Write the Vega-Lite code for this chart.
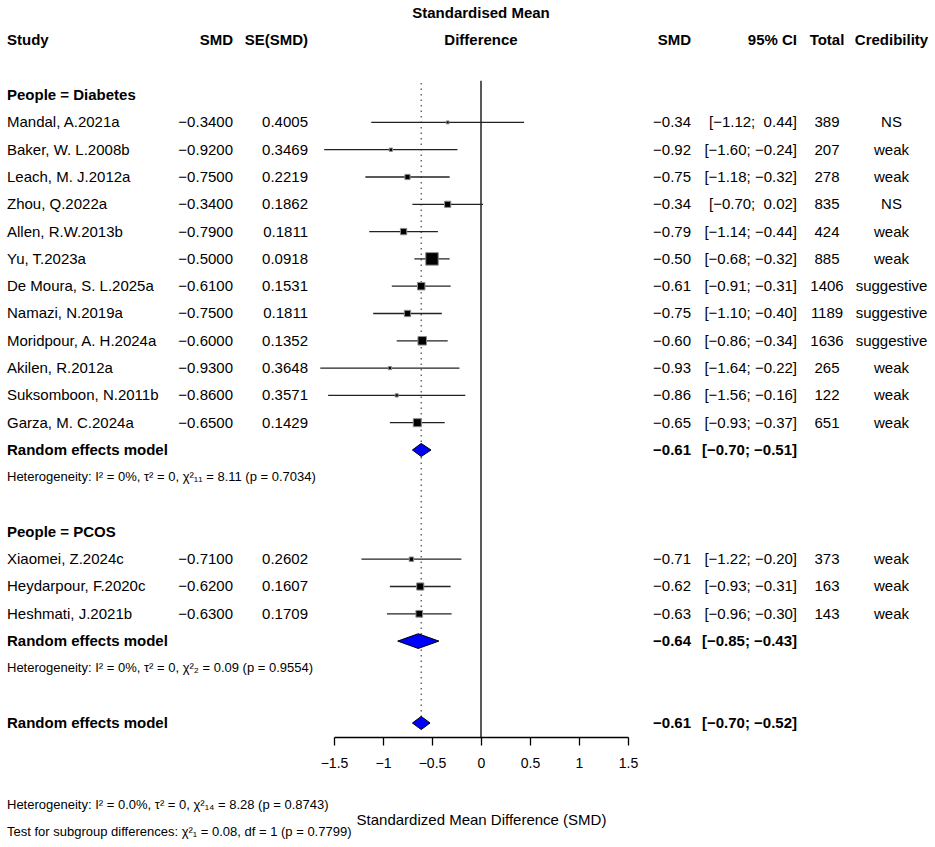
{
  "$schema": "https://vega.github.io/schema/vega-lite/v6.json",
  "padding": {"left": 7, "top": 0, "right": 9, "bottom": 0},
  "autosize": {"type": "pad"},
  "spacing": 0,
  "bounds": "flush",
  "background": "white",
  "resolve": {"scale": {"x": "independent", "y": "independent", "size": "independent"}},
  "datasets": {
    "studies": [
      {"row": 3, "study": "Mandal, A.2021a", "smd": -0.34, "se": 0.4005, "lo": -1.12, "hi": 0.44, "w": 1.27, "ci": "[−1.12; \u00a00.44]", "total": "389", "cred": "NS"},
      {"row": 4, "study": "Baker, W. L.2008b", "smd": -0.92, "se": 0.3469, "lo": -1.60, "hi": -0.24, "w": 1.69, "ci": "[−1.60; −0.24]", "total": "207", "cred": "weak"},
      {"row": 5, "study": "Leach, M. J.2012a", "smd": -0.75, "se": 0.2219, "lo": -1.18, "hi": -0.32, "w": 4.12, "ci": "[−1.18; −0.32]", "total": "278", "cred": "weak"},
      {"row": 6, "study": "Zhou, Q.2022a", "smd": -0.34, "se": 0.1862, "lo": -0.70, "hi": 0.02, "w": 5.85, "ci": "[−0.70; \u00a00.02]", "total": "835", "cred": "NS"},
      {"row": 7, "study": "Allen, R.W.2013b", "smd": -0.79, "se": 0.1811, "lo": -1.14, "hi": -0.44, "w": 6.19, "ci": "[−1.14; −0.44]", "total": "424", "cred": "weak"},
      {"row": 8, "study": "Yu, T.2023a", "smd": -0.50, "se": 0.0918, "lo": -0.68, "hi": -0.32, "w": 24.08, "ci": "[−0.68; −0.32]", "total": "885", "cred": "weak"},
      {"row": 9, "study": "De Moura, S. L.2025a", "smd": -0.61, "se": 0.1531, "lo": -0.91, "hi": -0.31, "w": 8.66, "ci": "[−0.91; −0.31]", "total": "1406", "cred": "suggestive"},
      {"row": 10, "study": "Namazi, N.2019a", "smd": -0.75, "se": 0.1811, "lo": -1.10, "hi": -0.40, "w": 6.19, "ci": "[−1.10; −0.40]", "total": "1189", "cred": "suggestive"},
      {"row": 11, "study": "Moridpour, A. H.2024a", "smd": -0.60, "se": 0.1352, "lo": -0.86, "hi": -0.34, "w": 11.10, "ci": "[−0.86; −0.34]", "total": "1636", "cred": "suggestive"},
      {"row": 12, "study": "Akilen, R.2012a", "smd": -0.93, "se": 0.3648, "lo": -1.64, "hi": -0.22, "w": 1.52, "ci": "[−1.64; −0.22]", "total": "265", "cred": "weak"},
      {"row": 13, "study": "Suksomboon, N.2011b", "smd": -0.86, "se": 0.3571, "lo": -1.56, "hi": -0.16, "w": 1.59, "ci": "[−1.56; −0.16]", "total": "122", "cred": "weak"},
      {"row": 14, "study": "Garza, M. C.2024a", "smd": -0.65, "se": 0.1429, "lo": -0.93, "hi": -0.37, "w": 9.94, "ci": "[−0.93; −0.37]", "total": "651", "cred": "weak"},
      {"row": 19, "study": "Xiaomei, Z.2024c", "smd": -0.71, "se": 0.2602, "lo": -1.22, "hi": -0.20, "w": 3.00, "ci": "[−1.22; −0.20]", "total": "373", "cred": "weak"},
      {"row": 20, "study": "Heydarpour, F.2020c", "smd": -0.62, "se": 0.1607, "lo": -0.93, "hi": -0.31, "w": 7.86, "ci": "[−0.93; −0.31]", "total": "163", "cred": "weak"},
      {"row": 21, "study": "Heshmati, J.2021b", "smd": -0.63, "se": 0.1709, "lo": -0.96, "hi": -0.30, "w": 6.95, "ci": "[−0.96; −0.30]", "total": "143", "cred": "weak"}
    ],
    "models": [
      {"row": 15, "label": "Random effects model", "est": -0.61, "lo": -0.70, "hi": -0.51, "ci": "[−0.70; −0.51]"},
      {"row": 22, "label": "Random effects model", "est": -0.64, "lo": -0.85, "hi": -0.43, "ci": "[−0.85; −0.43]"},
      {"row": 25, "label": "Random effects model", "est": -0.61, "lo": -0.70, "hi": -0.52, "ci": "[−0.70; −0.52]"}
    ],
    "diamonds": [
      {"m": "Diabetes", "k": 0, "x": -0.70, "y": 15},
      {"m": "Diabetes", "k": 1, "x": -0.61, "y": 14.76},
      {"m": "Diabetes", "k": 2, "x": -0.51, "y": 15},
      {"m": "Diabetes", "k": 3, "x": -0.61, "y": 15.24},
      {"m": "PCOS", "k": 0, "x": -0.85, "y": 22},
      {"m": "PCOS", "k": 1, "x": -0.64, "y": 21.73},
      {"m": "PCOS", "k": 2, "x": -0.43, "y": 22},
      {"m": "PCOS", "k": 3, "x": -0.64, "y": 22.27},
      {"m": "Overall", "k": 0, "x": -0.70, "y": 25},
      {"m": "Overall", "k": 1, "x": -0.61, "y": 24.76},
      {"m": "Overall", "k": 2, "x": -0.52, "y": 25},
      {"m": "Overall", "k": 3, "x": -0.61, "y": 25.24}
    ],
    "left": [
      {"row": 0, "label": "Study", "kind": "b"},
      {"row": 2, "label": "People = Diabetes", "kind": "b"},
      {"row": 15, "label": "Random effects model", "kind": "b"},
      {"row": 16, "label": "Heterogeneity: I² = 0%, τ² = 0, χ²₁₁ = 8.11 (p = 0.7034)", "kind": "h"},
      {"row": 18, "label": "People = PCOS", "kind": "b"},
      {"row": 22, "label": "Random effects model", "kind": "b"},
      {"row": 23, "label": "Heterogeneity: I² = 0%, τ² = 0, χ²₂ = 0.09 (p = 0.9554)", "kind": "h"},
      {"row": 25, "label": "Random effects model", "kind": "b"},
      {"row": 28, "label": "Heterogeneity: I² = 0.0%, τ² = 0, χ²₁₄ = 8.28 (p = 0.8743)", "kind": "h"},
      {"row": 29, "label": "Test for subgroup differences: χ²₁ = 0.08, df = 1 (p = 0.7799)", "kind": "h"}
    ],
    "headers": [
      {"row": 0, "col": "smdL", "t": "SMD"},
      {"row": 0, "col": "se", "t": "SE(SMD)"},
      {"row": -1, "col": "forest", "t": "Standardised Mean"},
      {"row": 0, "col": "forest", "t": "Difference"},
      {"row": 0, "col": "smdR", "t": "SMD"},
      {"row": 0, "col": "ci", "t": "95% CI"},
      {"row": 0, "col": "total", "t": "Total"},
      {"row": 0, "col": "cred", "t": "Credibility"}
    ],
    "refs": [{"name": "no effect", "x": 0}]
  },
  "hconcat": [
    {
      "width": 176, "height": 737,
      "layer": [
        {"data": {"name": "studies"}, "mark": {"type": "text", "align": "left", "fontSize": 15},
         "encoding": {"x": {"value": 0}, "y": {"field": "row", "type": "quantitative", "scale": {"domain": [-1.4835, 25.513], "reverse": true, "nice": false, "zero": false}, "axis": null}, "text": {"field": "study"}}},
        {"data": {"name": "left"}, "transform": [{"filter": "datum.kind == 'b'"}], "mark": {"type": "text", "align": "left", "fontSize": 15, "fontWeight": "bold"},
         "encoding": {"x": {"value": 0}, "y": {"field": "row", "type": "quantitative", "scale": {"domain": [-1.4835, 25.513], "reverse": true, "nice": false, "zero": false}, "axis": null}, "text": {"field": "label"}}},
        {"data": {"name": "left"}, "transform": [{"filter": "datum.kind == 'h'"}], "mark": {"type": "text", "align": "left", "fontSize": 13},
         "encoding": {"x": {"value": 0}, "y": {"field": "row", "type": "quantitative", "scale": {"domain": [-1.4835, 25.513], "reverse": true, "nice": false, "zero": false}, "axis": null}, "text": {"field": "label"}}}
      ]
    },
    {
      "width": 50, "height": 737,
      "layer": [
        {"data": {"name": "headers"}, "transform": [{"filter": "datum.col == 'smdL'"}], "mark": {"type": "text", "align": "right", "fontSize": 15, "fontWeight": "bold"},
         "encoding": {"x": {"value": "width"}, "y": {"field": "row", "type": "quantitative", "scale": {"domain": [-1.4835, 25.513], "reverse": true, "nice": false, "zero": false}, "axis": null}, "text": {"field": "t"}}},
        {"data": {"name": "studies"}, "mark": {"type": "text", "align": "right", "fontSize": 15},
         "encoding": {"x": {"value": "width"}, "y": {"field": "row", "type": "quantitative", "scale": {"domain": [-1.4835, 25.513], "reverse": true, "nice": false, "zero": false}, "axis": null}, "text": {"field": "smd", "type": "quantitative", "format": ".4f"}}}
      ]
    },
    {
      "width": 75, "height": 737,
      "layer": [
        {"data": {"name": "headers"}, "transform": [{"filter": "datum.col == 'se'"}], "mark": {"type": "text", "align": "right", "fontSize": 15, "fontWeight": "bold"},
         "encoding": {"x": {"value": "width"}, "y": {"field": "row", "type": "quantitative", "scale": {"domain": [-1.4835, 25.513], "reverse": true, "nice": false, "zero": false}, "axis": null}, "text": {"field": "t"}}},
        {"data": {"name": "studies"}, "mark": {"type": "text", "align": "right", "fontSize": 15},
         "encoding": {"x": {"value": "width"}, "y": {"field": "row", "type": "quantitative", "scale": {"domain": [-1.4835, 25.513], "reverse": true, "nice": false, "zero": false}, "axis": null}, "text": {"field": "se", "type": "quantitative", "format": ".4f"}}}
      ]
    },
    {
      "width": 26, "height": 737,
      "data": {"values": []},
      "mark": {"type": "text"},
      "encoding": {"text": {"field": "t"}}
    },
    {
      "width": 294, "height": 737,
      "resolve": {"scale": {"size": "independent"}},
      "layer": [
        {"data": {"name": "refs"}, "mark": {"type": "rule", "color": "#000000", "strokeWidth": 1.3},
         "encoding": {
           "x": {"field": "x", "type": "quantitative", "scale": {"domain": [-1.5, 1.5], "nice": false, "zero": false}, "title": "Standardized Mean Difference (SMD)", "axis": {"values": [-1.5, -1, -0.5, 0, 0.5, 1, 1.5], "format": ".1~f"}},
           "y": {"datum": 1.47, "type": "quantitative", "scale": {"domain": [-1.4835, 25.513], "reverse": true, "nice": false, "zero": false}, "axis": null},
           "y2": {"datum": 25.513}}},
        {"data": {"name": "models"}, "transform": [{"filter": "datum.row == 25"}], "mark": {"type": "rule", "color": "#555555", "strokeWidth": 1.3, "strokeDash": [1.5, 4]},
         "encoding": {
           "x": {"field": "est", "type": "quantitative", "scale": {"domain": [-1.5, 1.5], "nice": false, "zero": false}, "title": "Standardized Mean Difference (SMD)", "axis": {"values": [-1.5, -1, -0.5, 0, 0.5, 1, 1.5], "format": ".1~f"}},
           "y": {"datum": 1.56, "type": "quantitative", "scale": {"domain": [-1.4835, 25.513], "reverse": true, "nice": false, "zero": false}, "axis": null},
           "y2": {"datum": 25.2}}},
        {"data": {"name": "studies"}, "mark": {"type": "rule", "color": "#222222", "strokeWidth": 1.3},
         "encoding": {
           "x": {"field": "lo", "type": "quantitative", "scale": {"domain": [-1.5, 1.5], "nice": false, "zero": false}, "title": "Standardized Mean Difference (SMD)", "axis": {"values": [-1.5, -1, -0.5, 0, 0.5, 1, 1.5], "format": ".1~f"}},
           "x2": {"field": "hi"},
           "y": {"field": "row", "type": "quantitative", "scale": {"domain": [-1.4835, 25.513], "reverse": true, "nice": false, "zero": false}, "axis": null}}},
        {"data": {"name": "studies"}, "mark": {"type": "point", "shape": "square", "filled": true, "color": "#000000", "stroke": "#8c8c8c", "strokeWidth": 1, "opacity": 1},
         "encoding": {
           "x": {"field": "smd", "type": "quantitative", "scale": {"domain": [-1.5, 1.5], "nice": false, "zero": false}, "title": "Standardized Mean Difference (SMD)", "axis": {"values": [-1.5, -1, -0.5, 0, 0.5, 1, 1.5], "format": ".1~f"}},
           "y": {"field": "row", "type": "quantitative", "scale": {"domain": [-1.4835, 25.513], "reverse": true, "nice": false, "zero": false}, "axis": null},
           "size": {"field": "w", "type": "quantitative", "scale": {"domain": [0, 24.08], "range": [0, 156]}, "legend": null}}},
        {"data": {"name": "diamonds"}, "mark": {"type": "line", "interpolate": "linear-closed", "fill": "#0000FF", "stroke": "#000000", "strokeWidth": 1},
         "encoding": {
           "x": {"field": "x", "type": "quantitative", "scale": {"domain": [-1.5, 1.5], "nice": false, "zero": false}, "title": "Standardized Mean Difference (SMD)", "axis": {"values": [-1.5, -1, -0.5, 0, 0.5, 1, 1.5], "format": ".1~f"}},
           "y": {"field": "y", "type": "quantitative", "scale": {"domain": [-1.4835, 25.513], "reverse": true, "nice": false, "zero": false}, "axis": null},
           "detail": {"field": "m"},
           "order": {"field": "k", "type": "quantitative"}}},
        {"data": {"name": "headers"}, "transform": [{"filter": "datum.col == 'forest'"}], "mark": {"type": "text", "align": "center", "fontSize": 15, "fontWeight": "bold"},
         "encoding": {
           "y": {"field": "row", "type": "quantitative", "scale": {"domain": [-1.4835, 25.513], "reverse": true, "nice": false, "zero": false}, "axis": null},
           "text": {"field": "t"}}}
      ]
    },
    {
      "width": 63, "height": 737,
      "layer": [
        {"data": {"name": "headers"}, "transform": [{"filter": "datum.col == 'smdR'"}], "mark": {"type": "text", "align": "right", "fontSize": 15, "fontWeight": "bold"},
         "encoding": {"x": {"value": "width"}, "y": {"field": "row", "type": "quantitative", "scale": {"domain": [-1.4835, 25.513], "reverse": true, "nice": false, "zero": false}, "axis": null}, "text": {"field": "t"}}},
        {"data": {"name": "studies"}, "mark": {"type": "text", "align": "right", "fontSize": 15},
         "encoding": {"x": {"value": "width"}, "y": {"field": "row", "type": "quantitative", "scale": {"domain": [-1.4835, 25.513], "reverse": true, "nice": false, "zero": false}, "axis": null}, "text": {"field": "smd", "type": "quantitative", "format": ".2f"}}},
        {"data": {"name": "models"}, "mark": {"type": "text", "align": "right", "fontSize": 15, "fontWeight": "bold"},
         "encoding": {"x": {"value": "width"}, "y": {"field": "row", "type": "quantitative", "scale": {"domain": [-1.4835, 25.513], "reverse": true, "nice": false, "zero": false}, "axis": null}, "text": {"field": "est", "type": "quantitative", "format": ".2f"}}}
      ]
    },
    {
      "width": 106, "height": 737,
      "layer": [
        {"data": {"name": "headers"}, "transform": [{"filter": "datum.col == 'ci'"}], "mark": {"type": "text", "align": "right", "fontSize": 15, "fontWeight": "bold"},
         "encoding": {"x": {"value": "width"}, "y": {"field": "row", "type": "quantitative", "scale": {"domain": [-1.4835, 25.513], "reverse": true, "nice": false, "zero": false}, "axis": null}, "text": {"field": "t"}}},
        {"data": {"name": "studies"}, "mark": {"type": "text", "align": "right", "fontSize": 15},
         "encoding": {"x": {"value": "width"}, "y": {"field": "row", "type": "quantitative", "scale": {"domain": [-1.4835, 25.513], "reverse": true, "nice": false, "zero": false}, "axis": null}, "text": {"field": "ci"}}},
        {"data": {"name": "models"}, "mark": {"type": "text", "align": "right", "fontSize": 15, "fontWeight": "bold"},
         "encoding": {"x": {"value": "width"}, "y": {"field": "row", "type": "quantitative", "scale": {"domain": [-1.4835, 25.513], "reverse": true, "nice": false, "zero": false}, "axis": null}, "text": {"field": "ci"}}}
      ]
    },
    {
      "width": 60, "height": 737,
      "layer": [
        {"data": {"name": "headers"}, "transform": [{"filter": "datum.col == 'total'"}], "mark": {"type": "text", "align": "center", "fontSize": 15, "fontWeight": "bold"},
         "encoding": {"y": {"field": "row", "type": "quantitative", "scale": {"domain": [-1.4835, 25.513], "reverse": true, "nice": false, "zero": false}, "axis": null}, "text": {"field": "t"}}},
        {"data": {"name": "studies"}, "mark": {"type": "text", "align": "center", "fontSize": 15},
         "encoding": {"y": {"field": "row", "type": "quantitative", "scale": {"domain": [-1.4835, 25.513], "reverse": true, "nice": false, "zero": false}, "axis": null}, "text": {"field": "total"}}}
      ]
    },
    {
      "width": 69, "height": 737,
      "layer": [
        {"data": {"name": "headers"}, "transform": [{"filter": "datum.col == 'cred'"}], "mark": {"type": "text", "align": "center", "fontSize": 15, "fontWeight": "bold"},
         "encoding": {"y": {"field": "row", "type": "quantitative", "scale": {"domain": [-1.4835, 25.513], "reverse": true, "nice": false, "zero": false}, "axis": null}, "text": {"field": "t"}}},
        {"data": {"name": "studies"}, "mark": {"type": "text", "align": "center", "fontSize": 15},
         "encoding": {"y": {"field": "row", "type": "quantitative", "scale": {"domain": [-1.4835, 25.513], "reverse": true, "nice": false, "zero": false}, "axis": null}, "text": {"field": "cred"}}}
      ]
    }
  ],
  "config": {
    "view": {"stroke": null},
    "font": "Liberation Sans",
    "text": {"font": "Liberation Sans", "color": "#000000", "baseline": "middle"},
    "axis": {"grid": false},
    "axisX": {
      "domainColor": "#000000", "domainWidth": 1.3, "tickColor": "#000000", "tickWidth": 1.3, "tickSize": 8,
      "labelFont": "Liberation Sans", "labelFontSize": 14, "labelColor": "#000000", "labelPadding": 11,
      "labelFlush": false, "labelOverlap": false,
      "titleFont": "Liberation Sans", "titleFontSize": 15, "titleFontWeight": "normal", "titleColor": "#000000", "titlePadding": 42
    }
  }
}
